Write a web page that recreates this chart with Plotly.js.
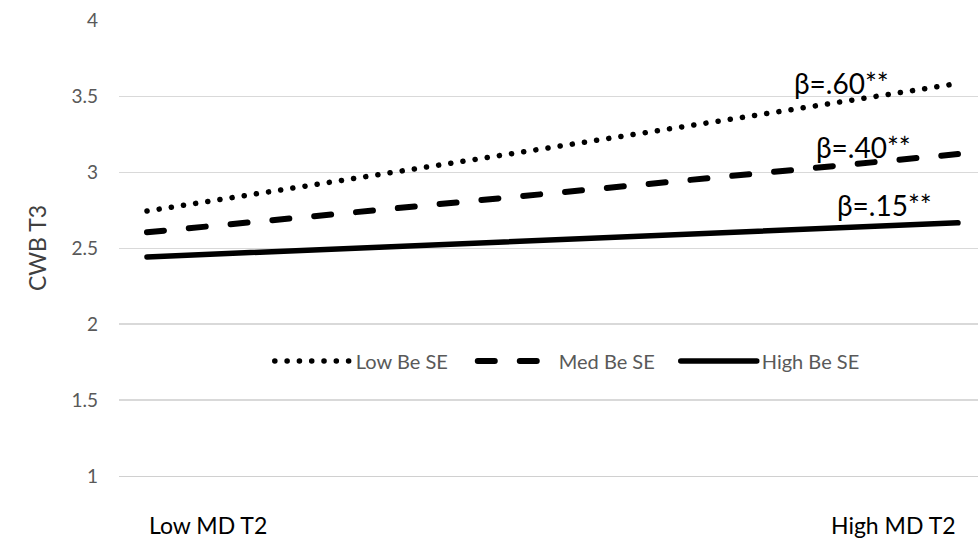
<!DOCTYPE html>
<html>
<head>
<meta charset="utf-8">
<script src="https://cdn.plot.ly/plotly-3.0.1.min.js"></script>
<style>
  html, body { margin: 0; padding: 0; background: #fff; }
  #chart { width: 978px; height: 546px; }
  .scatterlayer .js-line, .legendlines path { stroke-linecap: round; }
</style>
</head>
<body>
<div id="chart"></div>
<script>
// Data
const categories = ['Low MD T2', 'High MD T2'];
const seriesNames = ['Low Be SE', 'Med Be SE', 'High Be SE'];
const lowBeSE  = [2.745, 3.585];
const medBeSE  = [2.605, 3.12];
const highBeSE = [2.443, 2.667];
const betaLabels = ['β=.60**', 'β=.40**', 'β=.15**'];
const yTicks = [1, 1.5, 2, 2.5, 3, 3.5, 4];

const xPos = [0, 1];
const FONT = 'Lato, "Open Sans", sans-serif';

const traces = [
  { x: xPos, y: lowBeSE, name: seriesNames[0], mode: 'lines',
    line: { color: '#000', width: 5.5, dash: '0.1px,12.2px' } },
  { x: xPos, y: medBeSE, name: seriesNames[1], mode: 'lines',
    line: { color: '#000', width: 6, dash: '17px,25px' } },
  { x: xPos, y: highBeSE, name: seriesNames[2], mode: 'lines',
    line: { color: '#000', width: 5.5 } }
];

const series = [lowBeSE, medBeSE, highBeSE];
const betaX = [0.856, 0.884, 0.91];
const betaDy = [0.002, 0.044, 0.116];
const annotations = betaLabels.map((t, i) => ({
  x: betaX[i], y: series[i][1] + betaDy[i], xref: 'x', yref: 'y',
  text: t, showarrow: false, xanchor: 'center', yanchor: 'middle',
  font: { family: FONT, size: 28, color: '#000' }
}));
annotations.push({
  x: xPos[0], y: -0.107, xref: 'x', yref: 'paper', text: categories[0],
  showarrow: false, xanchor: 'left', yanchor: 'middle',
  font: { family: FONT, size: 23, color: '#000' }
});
annotations.push({
  x: xPos[1], y: -0.107, xref: 'x', yref: 'paper', text: categories[1],
  showarrow: false, xanchor: 'right', yanchor: 'middle',
  font: { family: FONT, size: 23, color: '#000' }
});

const layout = {
  width: 978, height: 546,
  margin: { l: 119, r: 0, t: 20, b: 70, pad: 0 },
  paper_bgcolor: '#fff', plot_bgcolor: '#fff',
  font: { family: FONT, color: '#595959' },
  showlegend: true,
  legend: {
    orientation: 'h', x: 0.53, xanchor: 'center', y: 0.252, yanchor: 'middle',
    font: { family: FONT, size: 20, color: '#595959' },
    bgcolor: 'rgba(0,0,0,0)', itemwidth: 76, entrywidth: 112
  },
  xaxis: {
    range: [-0.0345, 1.0247], showgrid: false, zeroline: false,
    showticklabels: false, ticks: '', showline: true, linecolor: '#d0d0d0', linewidth: 1.3,
    fixedrange: true
  },
  yaxis: {
    range: [1, 4.003], tickvals: yTicks, ticktext: yTicks.map(String),
    showgrid: true, gridcolor: '#d9d9d9', gridwidth: 1.3, zeroline: false,
    showline: false, ticks: '', ticklabelstandoff: 20,
    tickfont: { family: FONT, size: 19, color: '#595959' },
    title: { text: 'CWB T3', font: { family: FONT, size: 23, color: '#404040' }, standoff: 18 },
    fixedrange: true
  },
  annotations: annotations
};

Plotly.newPlot('chart', traces, layout, { displayModeBar: false, staticPlot: true });
</script>
</body>
</html>
